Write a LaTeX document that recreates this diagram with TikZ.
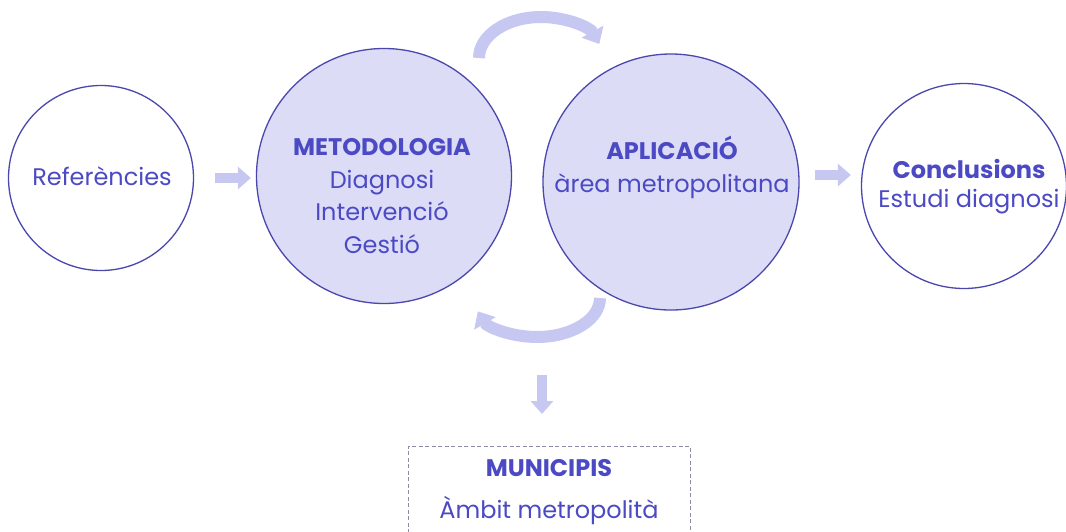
\documentclass[tikz,border=0pt]{standalone}
\usepackage{fontspec}
\setmainfont{Poppins}
\usetikzlibrary{arrows.meta}
\definecolor{ink}{HTML}{4B4AC4}
\definecolor{rim}{HTML}{4A47AE}
\definecolor{lav}{HTML}{DCDCF6}
\definecolor{flow}{HTML}{C6C8F2}
\definecolor{boxgray}{HTML}{8C8CA8}
\tikzset{
  stage/.style={circle,draw=rim,line width=1.3pt,minimum size=#1,inner sep=0},
  full stage/.style={stage=#1,fill=lav},
  txt/.style={text=ink,align=center,font=\fontsize{24}{32.5}\selectfont},
  flow arrow/.style={draw=flow,line width=10pt,-{Triangle[width=22pt,length=13pt]}},
  flow loop/.style={draw=flow,line width=12pt,-{Triangle[width=24pt,length=14pt]}},
  muni box/.style={draw=boxgray,line width=.9pt,dash pattern=on 4pt off 2.5pt},
  every picture/.style={x=1pt,y=-1pt},
}
\begin{document}
\begin{tikzpicture}
  \useasboundingbox[fill=white] (0,0) rectangle (1066,531);
  % the four stages
  \node[stage=185pt] (ref) at (101,178){};
  \node[full stage=255pt] (met) at (384,176){};
  \node[full stage=256pt] (apl) at (671,182){};
  \node[stage=205pt] (conc) at (964,186){};
  % anchor base sits on the last line
  \node[txt,anchor=base] (refT) at (102,185){Referències};
  \node[txt,anchor=base] (metT) at (382,253){\textbf{METODOLOGIA}\\Diagnosi\\Intervenció\\Gestió};
  \node[txt,anchor=base] (aplT) at (672,192){\textbf{APLICACIÓ}\\àrea metropolitana};
  \node[txt,anchor=base,font=\fontsize{24}{29}\selectfont] (concT) at (969,207){\textbf{Conclusions}\\Estudi diagnosi};

  % straight arrows
  \draw[flow arrow,shorten <=21pt,shorten >=5pt] (ref.east) -- (ref.east -| met.west);
  \draw[flow arrow,shorten <=15pt,shorten >=10pt] ([yshift=7pt]apl.east) -- ([yshift=7pt]apl.east -| conc.west);

  % loop between the two filled stages
  \coordinate (loopTop) at (541,58);
  \coordinate (loopBot) at (537,298);
  \draw[flow loop] (loopTop) ++(-62,0) arc[start angle=180,end angle=340,x radius=62,y radius=41];
  \draw[flow loop] (loopBot) ++(63,0) arc[start angle=0,end angle=160,x radius=63,y radius=39];

  % municipis box
  \node[muni box,anchor=north,minimum width=282pt,minimum height=120pt] (muni) at (549,446){};
  \node[txt,anchor=base,font=\fontsize{24}{42}\selectfont] (muniT) at (549,518){\textbf{MUNICIPIS}\\Àmbit metropolità};
  \coordinate (drop) at (542,375);
  \draw[flow arrow,shorten >=32pt] (drop) -- (drop |- muni.north);
\end{tikzpicture}
\end{document}
